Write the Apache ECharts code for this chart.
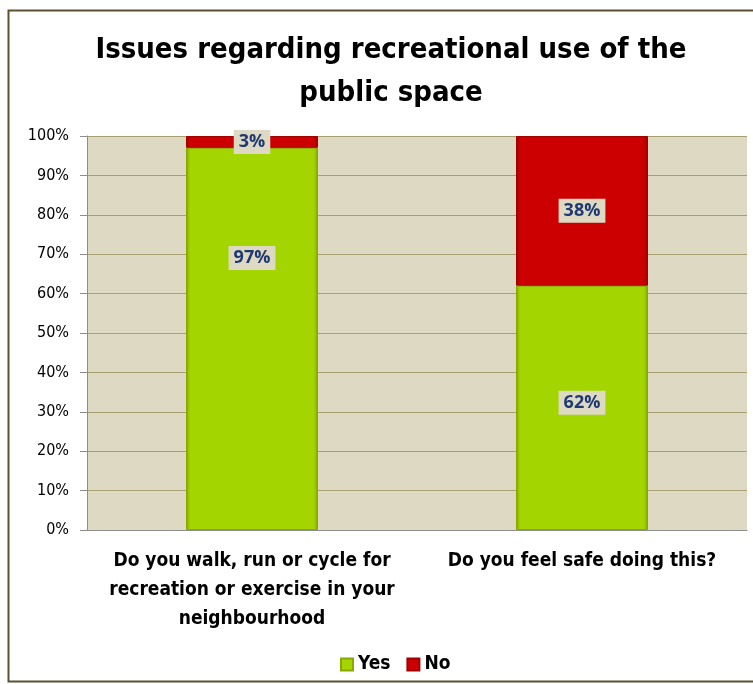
<!DOCTYPE html>
<html><head><meta charset="utf-8">
<script src="https://cdn.jsdelivr.net/npm/echarts@6/dist/echarts.min.js"></script>
<style>html,body{margin:0;padding:0;background:#fff}#c{width:753px;height:684px}</style>
</head><body><div id="c"></div>
<script>
const categories = ['Do you walk, run or cycle for\nrecreation or exercise in your\nneighbourhood', 'Do you feel safe doing this?'];
const yesValues = [97, 62];
const noValues = [3, 38];
const seriesNames = ['Yes', 'No'];

const FONT = '"Liberation Sans Narrow", "DejaVu Sans Condensed", "Open Sans", sans-serif';
const chart = echarts.init(document.getElementById('c'));
function bevel(base, dark) {
  return new echarts.graphic.LinearGradient(0, 0, 1, 0, [
    {offset: 0, color: dark}, {offset: 0.03, color: base}, {offset: 0.97, color: base}, {offset: 1, color: dark}
  ]);
}
const labelCfg = {
  show: true, position: 'inside', formatter: '{c}%',
  color: '#1F3A73', fontWeight: 'bold', fontSize: 18, fontFamily: '"Open Sans", sans-serif',
  backgroundColor: '#DDD9C3', padding: [4, 5, 2, 5]
};
const yesData = yesValues.map((v, i) => i === 0 ? {value: v, label: {offset: [0, -81]}} : {value: v, label: {offset: [0, -5]}});
chart.setOption({
  animation: false,
  title: {
    text: 'Issues regarding recreational use of the\npublic space',
    left: 386, top: 24, textAlign: 'center',
    textStyle: {fontFamily: FONT, fontSize: 29, fontWeight: 'bold', color: '#000', lineHeight: 43}
  },
  graphic: [{type: 'rect', shape: {x: 8.5, y: 10.5, width: 760, height: 671}, style: {fill: 'none', stroke: '#5A5230', lineWidth: 2}, silent: true}],
  legend: {
    bottom: 5, left: 335, itemWidth: 12, itemHeight: 12, itemGap: 16,
    icon: 'rect',
    textStyle: {fontFamily: FONT, fontSize: 19, fontWeight: 'bold', color: '#000'},
    data: seriesNames
  },
  grid: {left: 87, right: 6, top: 136, bottom: 154, show: true, backgroundColor: '#DDD9C3', borderWidth: 0},
  xAxis: {
    type: 'category', data: categories,
    axisLine: {show: true, lineStyle: {color: '#8C8C8C'}},
    axisTick: {show: false},
    axisLabel: {interval: 0, margin: 17, fontFamily: FONT, fontSize: 19, fontWeight: 'bold', color: '#000', lineHeight: 29}
  },
  yAxis: {
    type: 'value', min: 0, max: 100, interval: 10,
    axisLine: {show: true, lineStyle: {color: '#8C8C8C'}},
    axisTick: {show: true, length: 7, inside: false, lineStyle: {color: '#8C8C8C'}},
    splitLine: {lineStyle: {color: '#A8A070', width: 1}},
    axisLabel: {formatter: '{value}%', fontFamily: FONT, fontSize: 16, color: '#000', margin: 18}
  },
  series: [
    {name: 'Yes', type: 'bar', stack: 'a', data: yesData, barWidth: '40%',
     itemStyle: {color: bevel('#A3D600', '#7F9E00'), borderColor: '#8AA800', borderWidth: 1}, label: labelCfg},
    {name: 'No', type: 'bar', stack: 'a', data: noValues, barWidth: '40%',
     itemStyle: {color: bevel('#CC0000', '#9A0000'), borderColor: '#A00000', borderWidth: 1}, label: labelCfg}
  ]
});
</script></body></html>
